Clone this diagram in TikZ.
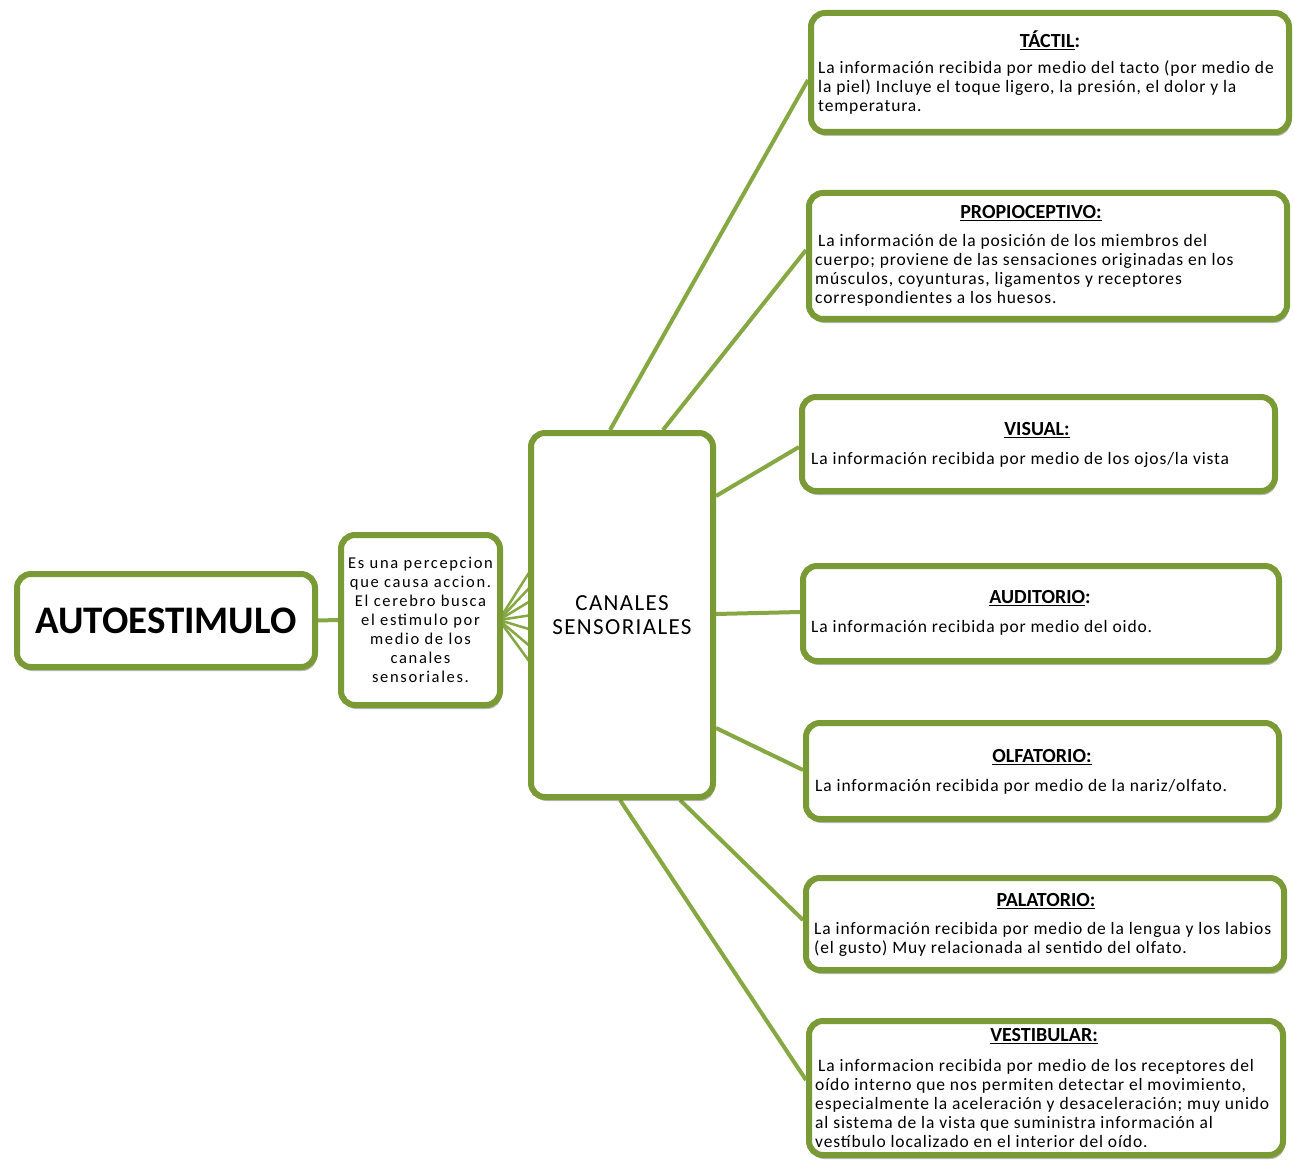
\documentclass[tikz,border=0pt]{standalone}
\usepackage{fontspec}
\setmainfont{Carlito}
\newfontfamily\spacedfont[LetterSpace=5]{Carlito}
\newfontfamily\widefont[LetterSpace=10]{Carlito}
\newfontfamily\canfont[LetterSpace=6]{Carlito}
\usetikzlibrary{shadows,backgrounds,calc}
\definecolor{boxgreen}{HTML}{7A9A36}
\definecolor{linegreen}{HTML}{86A843}
\begin{document}
\begin{tikzpicture}[x=1pt,y=-1pt,
 box/.style={draw=boxgreen, line width=6pt, rounded corners=14pt, fill=white,
   drop shadow={shadow xshift=1.5pt, shadow yshift=-4pt, opacity=0.45, fill=black!60},
   inner sep=0pt},
 body/.style={font=\spacedfont\fontsize{17.5}{19}\selectfont, align=left, inner sep=0pt, anchor=west},
 ttl/.style={font=\fontsize{20}{22}\selectfont\bfseries, inner sep=0pt},
 link/.style={draw=linegreen, line width=4pt},
 fan/.style={draw=linegreen, line width=2.5pt}]
\useasboundingbox (0,0) rectangle (1294,1161);

% left part
\node[box, minimum width=298pt, minimum height=93pt,
  font=\fontsize{39}{44}\selectfont\bfseries] (auto) at (166,620.5) {AUTOESTIMULO};
\node[box, minimum width=159pt, minimum height=170pt, align=center,
  font=\widefont\fontsize{16.5}{19}\selectfont] (percep) at (420.5,620)
  {Es una percepcion\\que causa accion.\\El cerebro busca\\el estimulo por\\medio de los\\canales\\sensoriales.};
\node[box, minimum width=182pt, minimum height=364pt, align=center,
  font=\canfont\fontsize{23}{24}\selectfont] (canales) at (622,615) {CANALES\\SENSORIALES};

% right boxes
\node[box, minimum width=478pt, minimum height=119pt] (tactil) at (1050,72.5) {};
\node[ttl] (tactilT) at (1050,40) {\underline{TÁCTIL}:};
\node[body] (tactilB) at (818,87.5) {La información recibida por medio del tacto (por medio de\\la piel) Incluye el toque ligero, la presión, el dolor y la\\temperatura.};

\node[box, minimum width=478pt, minimum height=126pt] (propio) at (1048,256) {};
\node[ttl] (propioT) at (1031,213) {\underline{PROPIOCEPTIVO:}};
\node[body] (propioB) at (815,270.5) {\hspace{3pt}La información de la posición de los miembros del\\cuerpo; proviene de las sensaciones originadas en los\\músculos, coyunturas, ligamentos y receptores\\correspondientes a los huesos.};

\node[box, minimum width=473pt, minimum height=94pt] (visual) at (1038.5,444) {};
\node[ttl] (visualT) at (1037,430) {\underline{VISUAL:}};
\node[body] (visualB) at (811,460) {La información recibida por medio de los ojos/la vista};

\node[box, minimum width=476pt, minimum height=95pt] (audit) at (1041,613.5) {};
\node[ttl] (auditT) at (1040,598) {\underline{AUDITORIO}:};
\node[body] (auditB) at (811,628) {La información recibida por medio del oido.};

\node[box, minimum width=473pt, minimum height=96pt] (olfat) at (1042.5,771) {};
\node[ttl] (olfatT) at (1042,757) {\underline{OLFATORIO:}};
\node[body] (olfatB) at (815,787) {La información recibida por medio de la nariz/olfato.};

\node[box, minimum width=478pt, minimum height=92pt] (palat) at (1045,924) {};
\node[ttl] (palatT) at (1046,901) {\underline{PALATORIO:}};
\node[body] (palatB) at (814,939) {La información recibida por medio de la lengua y los labios\\(el gusto) Muy relacionada al sentido del olfato.};

\node[box, minimum width=474pt, minimum height=134pt] (vestib) at (1046,1088) {};
\node[ttl] (vestibT) at (1044,1036) {\underline{VESTIBULAR:}};
\node[body] (vestibB) at (815,1103) {\hspace{3pt}La informacion recibida por medio de los receptores del\\oído interno que nos permiten detectar el movimiento,\\especialmente la aceleración y desaceleración; muy unido\\al sistema de la vista que suministra información al\\vestíbulo localizado en el interior del oído.};

% connectors
\begin{pgfonlayer}{background}
\fill[white] (0,0) rectangle (1294,1161);
\draw[link] (auto.east) -- (percep.west);
\foreach \s in {47,30,15,0,-15,-33,-50}
  \draw[fan] ([xshift=-4pt]percep.east) -- ([yshift=\s pt, xshift=4pt]canales.west);
\draw[link] ([xshift=-12pt]canales.north) -- ([yshift=-7.5pt]tactil.west);
\draw[link] ([xshift=41pt]canales.north) -- ([yshift=6pt]propio.west);
\draw[link] ([yshift=119pt]canales.east) -- ([yshift=-3pt]visual.west);
\draw[link] ([yshift=1pt]canales.east) -- ([yshift=1.5pt]audit.west);
\draw[link] ([yshift=-113pt]canales.east) -- ([yshift=1pt]olfat.west);
\draw[link] ([xshift=58pt]canales.south) -- ([yshift=4pt]palat.west);
\draw[link] ([xshift=-2pt]canales.south) -- ([yshift=8pt]vestib.west);
\end{pgfonlayer}
\end{tikzpicture}
\end{document}
